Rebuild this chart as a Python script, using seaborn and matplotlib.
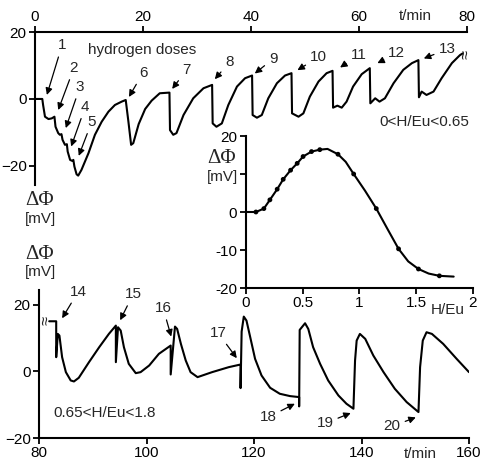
import pandas as pd
import matplotlib
matplotlib.use('Agg')
import matplotlib.pyplot as plt
import seaborn as sns

sns.set_theme(style='ticks')
plt.rcParams['font.family'] = ['Liberation Sans', 'DejaVu Sans']

# upper trace, 0 < H/Eu < 0.65  (t in min, dPhi in mV)
top_t = [0, 1.35, 1.5, 1.85, 2.5, 3.1, 3.6, 3.8, 4.3, 4.6, 4.9, 5.1, 5.55, 5.9, 6.05, 6.5, 6.9, 7.1,
         7.3, 7.7, 8.0, 8.6, 9.9, 11.1, 12.35, 13.6, 14.8, 16.05, 16.8, 17.3, 17.8, 18.2, 19.2, 20.4,
         21.6, 23.1, 24.9, 25.0, 25.6, 26.2, 27.5, 29.3, 31.2, 32.8, 32.9, 33.6, 34.6, 35.8, 37.4,
         38.9, 40.2, 40.3, 41.1, 42.0, 43.2, 44.8, 46.3, 47.5, 47.6, 48.8, 49.7, 50.9, 52.5, 54.0,
         55.1, 55.2, 56.0, 56.8, 57.7, 58.9, 60.5, 62.0, 62.1, 63.0, 63.8, 64.8, 66.4, 68.2, 69.8,
         71.0, 71.1, 71.6, 72.5, 73.8, 75.3, 77.2, 78.7, 79.2]
top_v = [0, 0, -1.8, -5.3, -6.0, -5.8, -5.3, -8.3, -10.2, -10.7, -10.5, -12.2, -13.7, -13.5, -15.7,
         -18.2, -18.5, -18.2, -20.2, -22.5, -22.9, -21.2, -16.2, -10.7, -6.8, -3.8, -1.8, -0.8, -0.3,
         -6.8, -13.7, -13.2, -7.5, -3.0, -0.5, 1.7, 1.9, -9.3, -10.7, -10.2, -4.8, 0.2, 3.2, 4.2,
         -7.3, -8.3, -7.3, -1.8, 3.7, 6.2, 7.0, -4.8, -5.6, -4.8, 0.2, 4.7, 7.0, 7.7, -4.3, -5.3,
         -4.3, 0.7, 5.2, 7.7, 8.4, -2.6, -2.0, -2.6, -0.8, 3.7, 7.4, 9.2, -1.3, 0.2, -0.8, 0.2, 4.7,
         8.7, 10.7, 11.6, 0.5, 2.2, 1.2, 2.2, 6.2, 10.7, 13.1, 13.6]

# lower trace, 0.65 < H/Eu < 1.8
bot_t = [81.9, 83.2, 83.2, 83.5, 83.8, 84.3, 85.0, 85.9, 86.5, 87.4, 89.3, 91.2, 93.0, 94.3, 94.3,
         94.7, 95.2, 95.8, 96.7, 98.0, 98.9, 100.5, 102.3, 104.5, 104.5, 105.3, 105.7, 106.4, 107.3,
         108.2, 109.5, 112.2, 115.3, 117.5, 117.5, 117.7, 118.1, 118.6, 119.3, 120.2, 121.4, 123.0,
         124.8, 126.7, 128.4, 128.4, 128.5, 129.5, 130.1, 131.0, 132.3, 133.8, 135.7, 137.2, 138.5,
         138.8, 139.1, 139.7, 140.7, 142.2, 144.1, 146.2, 148.4, 150.6, 150.9, 151.4, 152.1, 153.1,
         155.2, 157.7, 160.0]
bot_v = [15.1, 15.1, 4.3, 11.3, 10.8, 4.3, -0.2, -2.7, -3.0, -1.9, 2.8, 7.3, 11.3, 13.8, 2.8,
         13.3, 12.3, 7.3, 2.3, -0.5, -0.2, 1.8, 5.3, 7.8, -0.9, 13.5, 12.8, 8.3, 3.3, -0.2, -1.7,
         -0.2, 1.3, 2.1, -5.0, 12.0, 16.5, 15.3, 10.3, 3.8, -1.2, -4.9, -6.7, -7.4, -7.7, -10.5,
         12.5, 14.5, 12.8, 7.3, 2.3, -2.7, -7.2, -9.7, -11.2, 3.3, 9.3, 11.3, 9.8, 4.8, -0.2, -5.2,
         -9.2, -12.2, 1.3, 9.3, 11.8, 11.3, 8.3, 3.8, -0.2]

# inset: dPhi vs H/Eu
h_dots = [0.09, 0.16, 0.213, 0.277, 0.33, 0.395, 0.453, 0.505, 0.579, 0.652, 0.812, 0.95, 1.149,
          1.345, 1.52, 1.704]
v_dots = [0, 0.9, 3.2, 6.0, 8.6, 11.0, 12.8, 14.6, 15.9, 16.4, 15.2, 10.0, 0.9, -9.7, -15.0, -16.8]
h_line = [0, 0.09, 0.16, 0.213, 0.277, 0.33, 0.395, 0.453, 0.505, 0.579, 0.652, 0.72, 0.812, 0.88,
          0.95, 1.05, 1.149, 1.25, 1.345, 1.43, 1.52, 1.61, 1.704, 1.83]
v_line = [0, 0, 0.9, 3.2, 6.0, 8.6, 11.0, 12.8, 14.6, 15.9, 16.4, 16.6, 15.2, 13.2, 10.0, 5.6, 0.9,
          -4.6, -9.7, -13.0, -15.0, -16.2, -16.8, -17.0]

# hydrogen dose labels: label position and arrow tip
top_doses = ['1', '2', '3', '4', '5', '6', '7', '8', '9', '10', '11', '12', '13']
top_lab = [(5.0, 16.0), (7.2, 9.2), (8.3, 3.5), (9.3, -2.4), (10.5, -6.9), (20.0, 7.8), (28.1, 8.7),
           (36.0, 11.0), (44.1, 12.0), (52.5, 12.5), (59.9, 13.1), (67.0, 13.6), (76.3, 14.8)]
top_tip = [(2.2, 1.2), (4.3, -3.3), (5.7, -8.7), (6.7, -14.2), (8.1, -17.0), (17.4, 0.6), (25.4, 3.0),
           (33.3, 5.9), (40.7, 7.6), (48.6, 8.6), (56.5, 9.4), (63.4, 10.7), (72.0, 12.1)]
bot_doses = ['14', '15', '16', '17', '18', '19', '20']
bot_lab = [(87.3, 24.0), (97.5, 23.2), (103.1, 19.0), (113.3, 11.6), (122.6, -13.8), (133.2, -15.6),
           (145.7, -16.5)]
bot_tip = [(84.3, 16.0), (95.1, 15.4), (104.6, 10.5), (116.8, 4.0), (127.6, -9.7), (138.0, -12.5),
           (150.1, -13.8)]

W, H = 481, 465
fs = 11
lw = 1.5
fig = plt.figure(figsize=(W / 100, H / 100), dpi=100)


def px_axes(x0, y0, x1, y1):
    return fig.add_axes([x0 / W, 1 - y1 / H, (x1 - x0) / W, (y1 - y0) / H])


def style(ax, hide):
    ax.set_facecolor('none')
    for name in hide:
        ax.spines[name].set_visible(False)
    for s in ax.spines.values():
        s.set_linewidth(1.5)
        s.set_color('black')
    ax.tick_params(length=4, width=1.3, colors='black', labelsize=fs, pad=2)


arrow = dict(arrowstyle='-|>', color='black', lw=0.9, mutation_scale=10, shrinkA=1, shrinkB=0)

# upper panel
ax1 = px_axes(35, 32, 467, 185)
sns.lineplot(x=top_t, y=top_v, ax=ax1, sort=False, estimator=None, color='black', lw=lw)
ax1.set_xlim(0, 80)
ax1.set_ylim(-25.7, 20)
ax1.xaxis.tick_top()
ax1.set_xticks([0, 20, 40, 60, 80])
ax1.set_yticks([-20, 0, 20])
style(ax1, ['bottom', 'right'])
for lab, p, q in zip(top_doses, top_lab, top_tip):
    ax1.annotate(lab, xy=q, xytext=p, ha='center', va='center', fontsize=fs, arrowprops=arrow,
                 annotation_clip=False)
ax1.text(9.8, 14.6, 'hydrogen doses', fontsize=fs, ha='left', va='center')
ax1.text(80.5, -6.9, '0<H/Eu<0.65', fontsize=fs, ha='right', va='center')
ax1.text(79.8, 13.4, '\u2248', rotation=90, fontsize=12, ha='center', va='center')

# lower panel
ax2 = px_axes(39, 290, 469, 438)
sns.lineplot(x=bot_t, y=bot_v, ax=ax2, sort=False, estimator=None, color='black', lw=lw)
ax2.set_xlim(80, 160)
ax2.set_ylim(-20, 24.5)
ax2.set_xticks([80, 100, 120, 140, 160])
ax2.set_yticks([-20, 0, 20])
style(ax2, ['top', 'right'])
for lab, p, q in zip(bot_doses, bot_lab, bot_tip):
    ax2.annotate(lab, xy=q, xytext=p, ha='center', va='center', fontsize=fs, arrowprops=arrow,
                 annotation_clip=False)
ax2.text(82.6, -12.6, '0.65<H/Eu<1.8', fontsize=fs, ha='left', va='center')
ax2.text(81.2, 15.2, '\u2248', rotation=90, fontsize=12, ha='center', va='center')

# inset
ax3 = px_axes(245.7, 136, 473, 288)
sns.lineplot(x=h_line, y=v_line, ax=ax3, sort=False, estimator=None, color='black', lw=lw)
sns.scatterplot(x=h_dots, y=v_dots, ax=ax3, color='black', s=12, edgecolor='none')
ax3.set_xlim(0, 2)
ax3.set_ylim(-20, 20)
ax3.set_xticks([0, 0.5, 1, 1.5, 2])
ax3.set_xticklabels(['0', '0.5', '1', '1.5', '2'])
ax3.set_yticks([-20, -10, 0, 10, 20])
ax3.set_yticklabels(['-20', '-10', '0', '', '20'])
style(ax3, ['top', 'right'])

# axis titles
serif = ['Liberation Serif', 'DejaVu Serif']
fig.text(40 / W, 1 - 200 / H, '\u0394\u03a6', family=serif, fontsize=15, ha='center', va='center')
fig.text(40 / W, 1 - 219 / H, '[mV]', fontsize=fs, ha='center', va='center')
fig.text(40 / W, 1 - 254 / H, '\u0394\u03a6', family=serif, fontsize=15, ha='center', va='center')
fig.text(40 / W, 1 - 272 / H, '[mV]', fontsize=fs, ha='center', va='center')
fig.text(222 / W, 1 - 158 / H, '\u0394\u03a6', family=serif, fontsize=15, ha='center', va='center')
fig.text(222 / W, 1 - 177 / H, '[mV]', fontsize=fs, ha='center', va='center')
fig.text(415 / W, 1 - 16 / H, 't/min', fontsize=fs, ha='center', va='center')
fig.text(420 / W, 1 - 454 / H, 't/min', fontsize=fs, ha='center', va='center')
fig.text(448 / W, 1 - 310 / H, 'H/Eu', fontsize=fs, ha='center', va='center')

fig.savefig('out.png', dpi=100, facecolor='white')
